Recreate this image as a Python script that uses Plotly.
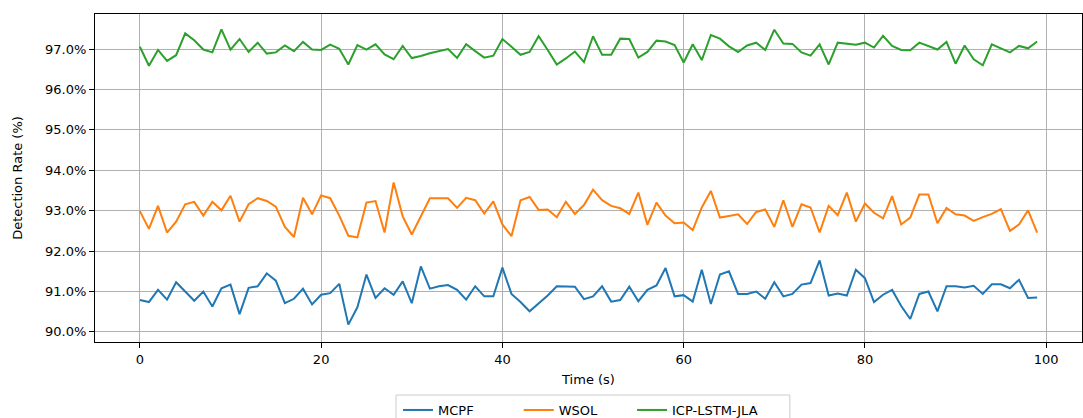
import plotly.graph_objects as go

time_s = list(range(100))

mcpf = [90.79, 90.74, 91.04, 90.80, 91.23, 91.01, 90.77, 91.00, 90.63, 91.08,
        91.17, 90.44, 91.09, 91.13, 91.45, 91.27, 90.71, 90.82, 91.07, 90.68,
        90.92, 90.96, 91.19, 90.18, 90.61, 91.42, 90.84, 91.08, 90.92, 91.25,
        90.71, 91.62, 91.07, 91.13, 91.16, 91.04, 90.80, 91.13, 90.88, 90.88,
        91.59, 90.94, 90.74, 90.51, 90.71, 90.90, 91.13, 91.12, 91.12, 90.81,
        90.88, 91.13, 90.75, 90.79, 91.12, 90.76, 91.04, 91.15, 91.58, 90.88,
        90.91, 90.75, 91.54, 90.69, 91.42, 91.50, 90.94, 90.94, 91.00, 90.82,
        91.23, 90.88, 90.94, 91.17, 91.21, 91.77, 90.90, 90.95, 90.90, 91.54,
        91.33, 90.74, 90.92, 91.04, 90.64, 90.32, 90.94, 91.00, 90.51, 91.13,
        91.13, 91.10, 91.14, 90.94, 91.18, 91.18, 91.08, 91.29, 90.84, 90.85]

wsol = [92.99, 92.55, 93.12, 92.46, 92.73, 93.16, 93.22, 92.88, 93.22, 93.01,
        93.37, 92.73, 93.16, 93.31, 93.24, 93.10, 92.60, 92.35, 93.32, 92.91,
        93.38, 93.31, 92.88, 92.38, 92.34, 93.20, 93.24, 92.46, 93.70, 92.86,
        92.41, 92.87, 93.31, 93.31, 93.31, 93.07, 93.32, 93.26, 92.93, 93.23,
        92.66, 92.37, 93.26, 93.34, 93.02, 93.03, 92.84, 93.22, 92.92, 93.14,
        93.52, 93.26, 93.12, 93.06, 92.92, 93.45, 92.65, 93.20, 92.88, 92.69,
        92.71, 92.52, 93.08, 93.49, 92.83, 92.87, 92.91, 92.67, 92.97, 93.03,
        92.60, 93.26, 92.60, 93.16, 93.08, 92.46, 93.12, 92.89, 93.45, 92.73,
        93.18, 92.95, 92.81, 93.36, 92.66, 92.83, 93.40, 93.40, 92.69, 93.07,
        92.91, 92.88, 92.75, 92.84, 92.92, 93.04, 92.50, 92.66, 93.01, 92.46]

icp_lstm_jla = [97.06, 96.59, 96.98, 96.71, 96.85, 97.39, 97.22, 96.99, 96.92, 97.49,
                96.99, 97.25, 96.93, 97.16, 96.89, 96.92, 97.09, 96.95, 97.18, 96.99,
                96.98, 97.11, 97.01, 96.62, 97.10, 96.99, 97.12, 96.87, 96.75, 97.08,
                96.78, 96.83, 96.90, 96.95, 97.00, 96.78, 97.12, 96.95, 96.79, 96.84,
                97.25, 97.06, 96.86, 96.93, 97.32, 96.98, 96.62, 96.77, 96.94, 96.68,
                97.32, 96.86, 96.86, 97.26, 97.25, 96.79, 96.93, 97.21, 97.19, 97.10,
                96.67, 97.12, 96.73, 97.35, 97.26, 97.07, 96.93, 97.09, 97.16, 96.98,
                97.48, 97.14, 97.13, 96.92, 96.84, 97.12, 96.62, 97.16, 97.13, 97.11,
                97.16, 97.04, 97.33, 97.08, 96.98, 96.97, 97.16, 97.07, 96.99, 97.18,
                96.64, 97.09, 96.75, 96.60, 97.12, 97.02, 96.92, 97.08, 97.02, 97.19]

series_names = ["MCPF", "WSOL", "ICP-LSTM-JLA"]
series_values = [mcpf, wsol, icp_lstm_jla]
colors = ["#1f77b4", "#ff7f0e", "#2ca02c"]
legend_ids = ["legend", "legend2", "legend3"]

y_ticks = [90, 91, 92, 93, 94, 95, 96, 97]
y_tick_labels = [f"{v:.1f}%" for v in y_ticks]
x_ticks = [0, 20, 40, 60, 80, 100]

fig = go.Figure()
for name, vals, col, lid in zip(series_names, series_values, colors, legend_ids):
    fig.add_trace(go.Scatter(x=time_s, y=vals, mode="lines", name=name,
                             legend=lid, line=dict(color=col, width=2)))

axis_common = dict(showline=True, linecolor="black", linewidth=1, mirror=True,
                   ticks="outside", ticklen=5, tickcolor="black",
                   showgrid=True, gridcolor="#b0b0b0", gridwidth=1, zeroline=False,
                   tickfont=dict(size=13, color="black"))

legend_common = dict(orientation="h", xref="container", xanchor="left",
                     yref="container", y=0.055, yanchor="top", itemwidth=30,
                     borderwidth=0, bgcolor="rgba(0,0,0,0)", font=dict(size=13))

fig.update_layout(
    width=1083, height=418,
    margin=dict(l=95, r=1, t=14, b=76, autoexpand=False),
    paper_bgcolor="white", plot_bgcolor="white",
    font=dict(family="DejaVu Sans", size=13, color="black"),
    showlegend=True,
    legend=dict(x=0.3675, **legend_common),
    legend2=dict(x=0.479, **legend_common),
    legend3=dict(x=0.5836, **legend_common),
    shapes=[dict(type="rect", xref="paper", yref="paper",
                 x0=0.305, x1=0.704, y0=-0.32, y1=-0.1616,
                 line=dict(color="#cccccc", width=1), fillcolor="white",
                 layer="above")],
    xaxis=dict(range=[-4.95, 103.95], tickvals=x_ticks,
               title=dict(text="Time (s)", standoff=9, font=dict(size=13)),
               **axis_common),
    yaxis=dict(range=[89.75, 97.87], tickvals=y_ticks, ticktext=y_tick_labels,
               title=dict(text="Detection Rate (%)", standoff=19, font=dict(size=13)),
               **axis_common),
)

fig.write_html("out.html")
